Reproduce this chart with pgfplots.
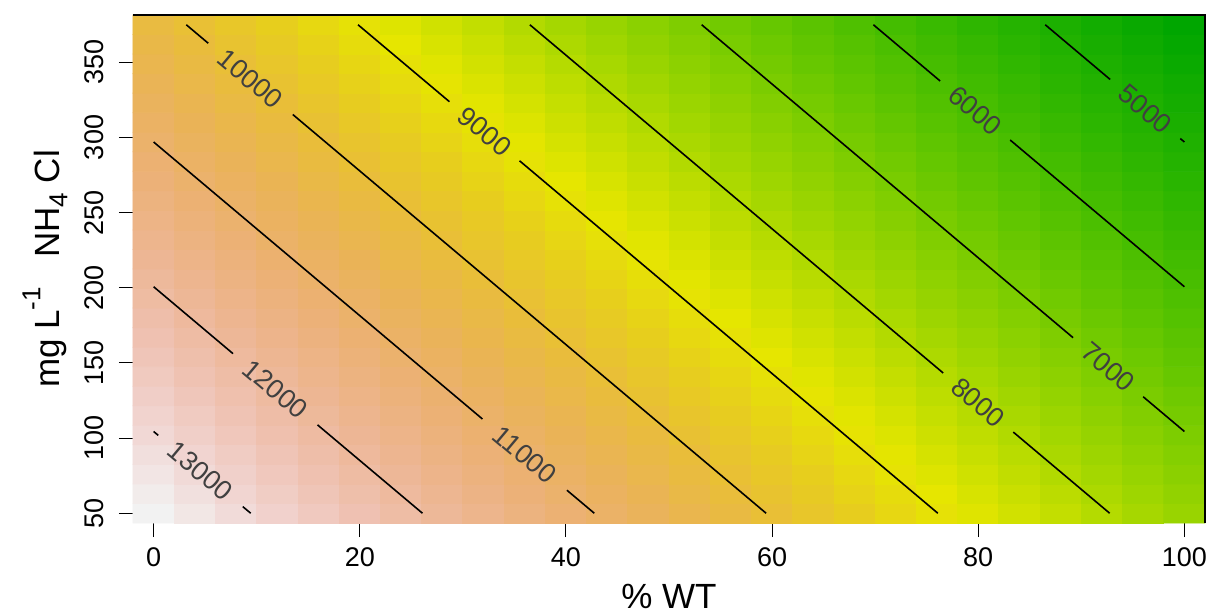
\documentclass[border=0pt]{standalone}
\usepackage{fontspec}
\setmainfont{Liberation Sans}
\usepackage{pgfplots}
\pgfplotsset{compat=1.18}

% reversed terrain palette as R draws it: green (low) -> yellow -> tan -> pink -> grey-white (high)
\pgfplotsset{colormap={terrain}{rgb255(0cm)=(0,166,0) rgb255(1cm)=(45,182,0) rgb255(2cm)=(99,198,0)
  rgb255(3cm)=(160,214,0) rgb255(4cm)=(230,230,0) rgb255(4.5cm)=(231,206,29) rgb255(5cm)=(233,189,58)
  rgb255(5.5cm)=(234,179,88) rgb255(6cm)=(236,177,118) rgb255(6.5cm)=(237,182,148)
  rgb255(7cm)=(239,194,179) rgb255(7.5cm)=(241,214,211) rgb255(8cm)=(242,242,242)}}

\newcommand{\sups}[1]{\raisebox{0.55em}{\fontsize{13}{13}\selectfont #1}}
\newcommand{\subs}[1]{\raisebox{-0.22em}{\fontsize{13}{13}\selectfont #1}}

\begin{document}
\begin{tikzpicture}
\begin{axis}[
  scale only axis,
  width=536pt, height=254pt,
  xmin=-2, xmax=102, ymin=43.5, ymax=381.5,
  axis line style={draw=none},
  tick align=outside,
  xtick pos=bottom, ytick pos=left,
  major tick length=7pt,
  tick style={black, line width=0.5pt},
  xtick={0,20,...,100},
  ytick={50,100,...,350},
  minor tick num=0,
  /pgf/number format/assume math mode=true,
  ticklabel style={font=\fontsize{13.5}{16}\selectfont},
  xticklabel style={anchor=center, yshift=-10pt},
  yticklabel style={anchor=center, xshift=-12.5pt, rotate=90},
  xlabel={\% WT},
  ylabel={mg L\sups{-1}\ \ \ NH\subs{4} Cl},
  label style={font=\fontsize{17.5}{20}\selectfont},
  xlabel style={at={(axis description cs:0.5,-0.1437)}, anchor=center},
  ylabel style={at={(axis description cs:-0.0821,0.5)}, anchor=center},
  colormap name=terrain,
  point meta min=4190, point meta max=13565,
  clip=false,
]
\addplot[matrix plot*, mesh/cols=26, point meta=explicit]
  table[x index=0, y index=1, meta index=2, row sep=\\] {
x y z\\
0 50 13565\\ 4 50 13325\\ 8 50 13085\\ 12 50 12845\\ 16 50 12605\\ 20 50 12365\\ 24 50 12125\\ 28 50 11885\\ 32 50 11645\\ 36 50 11405\\ 40 50 11165\\ 44 50 10925\\ 48 50 10685\\ 52 50 10445\\ 56 50 10205\\ 60 50 9965\\ 64 50 9725\\ 68 50 9485\\ 72 50 9245\\ 76 50 9005\\ 80 50 8765\\ 84 50 8525\\ 88 50 8285\\ 92 50 8045\\ 96 50 7805\\ 100 50 7565\\
0 63 13430\\ 4 63 13190\\ 8 63 12950\\ 12 63 12710\\ 16 63 12470\\ 20 63 12230\\ 24 63 11990\\ 28 63 11750\\ 32 63 11510\\ 36 63 11270\\ 40 63 11030\\ 44 63 10790\\ 48 63 10550\\ 52 63 10310\\ 56 63 10070\\ 60 63 9830\\ 64 63 9590\\ 68 63 9350\\ 72 63 9110\\ 76 63 8870\\ 80 63 8630\\ 84 63 8390\\ 88 63 8150\\ 92 63 7910\\ 96 63 7670\\ 100 63 7430\\
0 76 13295\\ 4 76 13055\\ 8 76 12815\\ 12 76 12575\\ 16 76 12335\\ 20 76 12095\\ 24 76 11855\\ 28 76 11615\\ 32 76 11375\\ 36 76 11135\\ 40 76 10895\\ 44 76 10655\\ 48 76 10415\\ 52 76 10175\\ 56 76 9935\\ 60 76 9695\\ 64 76 9455\\ 68 76 9215\\ 72 76 8975\\ 76 76 8735\\ 80 76 8495\\ 84 76 8255\\ 88 76 8015\\ 92 76 7775\\ 96 76 7535\\ 100 76 7295\\
0 89 13160\\ 4 89 12920\\ 8 89 12680\\ 12 89 12440\\ 16 89 12200\\ 20 89 11960\\ 24 89 11720\\ 28 89 11480\\ 32 89 11240\\ 36 89 11000\\ 40 89 10760\\ 44 89 10520\\ 48 89 10280\\ 52 89 10040\\ 56 89 9800\\ 60 89 9560\\ 64 89 9320\\ 68 89 9080\\ 72 89 8840\\ 76 89 8600\\ 80 89 8360\\ 84 89 8120\\ 88 89 7880\\ 92 89 7640\\ 96 89 7400\\ 100 89 7160\\
0 102 13025\\ 4 102 12785\\ 8 102 12545\\ 12 102 12305\\ 16 102 12065\\ 20 102 11825\\ 24 102 11585\\ 28 102 11345\\ 32 102 11105\\ 36 102 10865\\ 40 102 10625\\ 44 102 10385\\ 48 102 10145\\ 52 102 9905\\ 56 102 9665\\ 60 102 9425\\ 64 102 9185\\ 68 102 8945\\ 72 102 8705\\ 76 102 8465\\ 80 102 8225\\ 84 102 7985\\ 88 102 7745\\ 92 102 7505\\ 96 102 7265\\ 100 102 7025\\
0 115 12890\\ 4 115 12650\\ 8 115 12410\\ 12 115 12170\\ 16 115 11930\\ 20 115 11690\\ 24 115 11450\\ 28 115 11210\\ 32 115 10970\\ 36 115 10730\\ 40 115 10490\\ 44 115 10250\\ 48 115 10010\\ 52 115 9770\\ 56 115 9530\\ 60 115 9290\\ 64 115 9050\\ 68 115 8810\\ 72 115 8570\\ 76 115 8330\\ 80 115 8090\\ 84 115 7850\\ 88 115 7610\\ 92 115 7370\\ 96 115 7130\\ 100 115 6890\\
0 128 12755\\ 4 128 12515\\ 8 128 12275\\ 12 128 12035\\ 16 128 11795\\ 20 128 11555\\ 24 128 11315\\ 28 128 11075\\ 32 128 10835\\ 36 128 10595\\ 40 128 10355\\ 44 128 10115\\ 48 128 9875\\ 52 128 9635\\ 56 128 9395\\ 60 128 9155\\ 64 128 8915\\ 68 128 8675\\ 72 128 8435\\ 76 128 8195\\ 80 128 7955\\ 84 128 7715\\ 88 128 7475\\ 92 128 7235\\ 96 128 6995\\ 100 128 6755\\
0 141 12620\\ 4 141 12380\\ 8 141 12140\\ 12 141 11900\\ 16 141 11660\\ 20 141 11420\\ 24 141 11180\\ 28 141 10940\\ 32 141 10700\\ 36 141 10460\\ 40 141 10220\\ 44 141 9980\\ 48 141 9740\\ 52 141 9500\\ 56 141 9260\\ 60 141 9020\\ 64 141 8780\\ 68 141 8540\\ 72 141 8300\\ 76 141 8060\\ 80 141 7820\\ 84 141 7580\\ 88 141 7340\\ 92 141 7100\\ 96 141 6860\\ 100 141 6620\\
0 154 12485\\ 4 154 12245\\ 8 154 12005\\ 12 154 11765\\ 16 154 11525\\ 20 154 11285\\ 24 154 11045\\ 28 154 10805\\ 32 154 10565\\ 36 154 10325\\ 40 154 10085\\ 44 154 9845\\ 48 154 9605\\ 52 154 9365\\ 56 154 9125\\ 60 154 8885\\ 64 154 8645\\ 68 154 8405\\ 72 154 8165\\ 76 154 7925\\ 80 154 7685\\ 84 154 7445\\ 88 154 7205\\ 92 154 6965\\ 96 154 6725\\ 100 154 6485\\
0 167 12350\\ 4 167 12110\\ 8 167 11870\\ 12 167 11630\\ 16 167 11390\\ 20 167 11150\\ 24 167 10910\\ 28 167 10670\\ 32 167 10430\\ 36 167 10190\\ 40 167 9950\\ 44 167 9710\\ 48 167 9470\\ 52 167 9230\\ 56 167 8990\\ 60 167 8750\\ 64 167 8510\\ 68 167 8270\\ 72 167 8030\\ 76 167 7790\\ 80 167 7550\\ 84 167 7310\\ 88 167 7070\\ 92 167 6830\\ 96 167 6590\\ 100 167 6350\\
0 180 12215\\ 4 180 11975\\ 8 180 11735\\ 12 180 11495\\ 16 180 11255\\ 20 180 11015\\ 24 180 10775\\ 28 180 10535\\ 32 180 10295\\ 36 180 10055\\ 40 180 9815\\ 44 180 9575\\ 48 180 9335\\ 52 180 9095\\ 56 180 8855\\ 60 180 8615\\ 64 180 8375\\ 68 180 8135\\ 72 180 7895\\ 76 180 7655\\ 80 180 7415\\ 84 180 7175\\ 88 180 6935\\ 92 180 6695\\ 96 180 6455\\ 100 180 6215\\
0 193 12080\\ 4 193 11840\\ 8 193 11600\\ 12 193 11360\\ 16 193 11120\\ 20 193 10880\\ 24 193 10640\\ 28 193 10400\\ 32 193 10160\\ 36 193 9920\\ 40 193 9680\\ 44 193 9440\\ 48 193 9200\\ 52 193 8960\\ 56 193 8720\\ 60 193 8480\\ 64 193 8240\\ 68 193 8000\\ 72 193 7760\\ 76 193 7520\\ 80 193 7280\\ 84 193 7040\\ 88 193 6800\\ 92 193 6560\\ 96 193 6320\\ 100 193 6080\\
0 206 11945\\ 4 206 11705\\ 8 206 11465\\ 12 206 11225\\ 16 206 10985\\ 20 206 10745\\ 24 206 10505\\ 28 206 10265\\ 32 206 10025\\ 36 206 9785\\ 40 206 9545\\ 44 206 9305\\ 48 206 9065\\ 52 206 8825\\ 56 206 8585\\ 60 206 8345\\ 64 206 8105\\ 68 206 7865\\ 72 206 7625\\ 76 206 7385\\ 80 206 7145\\ 84 206 6905\\ 88 206 6665\\ 92 206 6425\\ 96 206 6185\\ 100 206 5945\\
0 219 11810\\ 4 219 11570\\ 8 219 11330\\ 12 219 11090\\ 16 219 10850\\ 20 219 10610\\ 24 219 10370\\ 28 219 10130\\ 32 219 9890\\ 36 219 9650\\ 40 219 9410\\ 44 219 9170\\ 48 219 8930\\ 52 219 8690\\ 56 219 8450\\ 60 219 8210\\ 64 219 7970\\ 68 219 7730\\ 72 219 7490\\ 76 219 7250\\ 80 219 7010\\ 84 219 6770\\ 88 219 6530\\ 92 219 6290\\ 96 219 6050\\ 100 219 5810\\
0 232 11675\\ 4 232 11435\\ 8 232 11195\\ 12 232 10955\\ 16 232 10715\\ 20 232 10475\\ 24 232 10235\\ 28 232 9995\\ 32 232 9755\\ 36 232 9515\\ 40 232 9275\\ 44 232 9035\\ 48 232 8795\\ 52 232 8555\\ 56 232 8315\\ 60 232 8075\\ 64 232 7835\\ 68 232 7595\\ 72 232 7355\\ 76 232 7115\\ 80 232 6875\\ 84 232 6635\\ 88 232 6395\\ 92 232 6155\\ 96 232 5915\\ 100 232 5675\\
0 245 11540\\ 4 245 11300\\ 8 245 11060\\ 12 245 10820\\ 16 245 10580\\ 20 245 10340\\ 24 245 10100\\ 28 245 9860\\ 32 245 9620\\ 36 245 9380\\ 40 245 9140\\ 44 245 8900\\ 48 245 8660\\ 52 245 8420\\ 56 245 8180\\ 60 245 7940\\ 64 245 7700\\ 68 245 7460\\ 72 245 7220\\ 76 245 6980\\ 80 245 6740\\ 84 245 6500\\ 88 245 6260\\ 92 245 6020\\ 96 245 5780\\ 100 245 5540\\
0 258 11405\\ 4 258 11165\\ 8 258 10925\\ 12 258 10685\\ 16 258 10445\\ 20 258 10205\\ 24 258 9965\\ 28 258 9725\\ 32 258 9485\\ 36 258 9245\\ 40 258 9005\\ 44 258 8765\\ 48 258 8525\\ 52 258 8285\\ 56 258 8045\\ 60 258 7805\\ 64 258 7565\\ 68 258 7325\\ 72 258 7085\\ 76 258 6845\\ 80 258 6605\\ 84 258 6365\\ 88 258 6125\\ 92 258 5885\\ 96 258 5645\\ 100 258 5405\\
0 271 11270\\ 4 271 11030\\ 8 271 10790\\ 12 271 10550\\ 16 271 10310\\ 20 271 10070\\ 24 271 9830\\ 28 271 9590\\ 32 271 9350\\ 36 271 9110\\ 40 271 8870\\ 44 271 8630\\ 48 271 8390\\ 52 271 8150\\ 56 271 7910\\ 60 271 7670\\ 64 271 7430\\ 68 271 7190\\ 72 271 6950\\ 76 271 6710\\ 80 271 6470\\ 84 271 6230\\ 88 271 5990\\ 92 271 5750\\ 96 271 5510\\ 100 271 5270\\
0 284 11135\\ 4 284 10895\\ 8 284 10655\\ 12 284 10415\\ 16 284 10175\\ 20 284 9935\\ 24 284 9695\\ 28 284 9455\\ 32 284 9215\\ 36 284 8975\\ 40 284 8735\\ 44 284 8495\\ 48 284 8255\\ 52 284 8015\\ 56 284 7775\\ 60 284 7535\\ 64 284 7295\\ 68 284 7055\\ 72 284 6815\\ 76 284 6575\\ 80 284 6335\\ 84 284 6095\\ 88 284 5855\\ 92 284 5615\\ 96 284 5375\\ 100 284 5135\\
0 297 11000\\ 4 297 10760\\ 8 297 10520\\ 12 297 10280\\ 16 297 10040\\ 20 297 9800\\ 24 297 9560\\ 28 297 9320\\ 32 297 9080\\ 36 297 8840\\ 40 297 8600\\ 44 297 8360\\ 48 297 8120\\ 52 297 7880\\ 56 297 7640\\ 60 297 7400\\ 64 297 7160\\ 68 297 6920\\ 72 297 6680\\ 76 297 6440\\ 80 297 6200\\ 84 297 5960\\ 88 297 5720\\ 92 297 5480\\ 96 297 5240\\ 100 297 5000\\
0 310 10865\\ 4 310 10625\\ 8 310 10385\\ 12 310 10145\\ 16 310 9905\\ 20 310 9665\\ 24 310 9425\\ 28 310 9185\\ 32 310 8945\\ 36 310 8705\\ 40 310 8465\\ 44 310 8225\\ 48 310 7985\\ 52 310 7745\\ 56 310 7505\\ 60 310 7265\\ 64 310 7025\\ 68 310 6785\\ 72 310 6545\\ 76 310 6305\\ 80 310 6065\\ 84 310 5825\\ 88 310 5585\\ 92 310 5345\\ 96 310 5105\\ 100 310 4865\\
0 323 10730\\ 4 323 10490\\ 8 323 10250\\ 12 323 10010\\ 16 323 9770\\ 20 323 9530\\ 24 323 9290\\ 28 323 9050\\ 32 323 8810\\ 36 323 8570\\ 40 323 8330\\ 44 323 8090\\ 48 323 7850\\ 52 323 7610\\ 56 323 7370\\ 60 323 7130\\ 64 323 6890\\ 68 323 6650\\ 72 323 6410\\ 76 323 6170\\ 80 323 5930\\ 84 323 5690\\ 88 323 5450\\ 92 323 5210\\ 96 323 4970\\ 100 323 4730\\
0 336 10595\\ 4 336 10355\\ 8 336 10115\\ 12 336 9875\\ 16 336 9635\\ 20 336 9395\\ 24 336 9155\\ 28 336 8915\\ 32 336 8675\\ 36 336 8435\\ 40 336 8195\\ 44 336 7955\\ 48 336 7715\\ 52 336 7475\\ 56 336 7235\\ 60 336 6995\\ 64 336 6755\\ 68 336 6515\\ 72 336 6275\\ 76 336 6035\\ 80 336 5795\\ 84 336 5555\\ 88 336 5315\\ 92 336 5075\\ 96 336 4835\\ 100 336 4595\\
0 349 10460\\ 4 349 10220\\ 8 349 9980\\ 12 349 9740\\ 16 349 9500\\ 20 349 9260\\ 24 349 9020\\ 28 349 8780\\ 32 349 8540\\ 36 349 8300\\ 40 349 8060\\ 44 349 7820\\ 48 349 7580\\ 52 349 7340\\ 56 349 7100\\ 60 349 6860\\ 64 349 6620\\ 68 349 6380\\ 72 349 6140\\ 76 349 5900\\ 80 349 5660\\ 84 349 5420\\ 88 349 5180\\ 92 349 4940\\ 96 349 4700\\ 100 349 4460\\
0 362 10325\\ 4 362 10085\\ 8 362 9845\\ 12 362 9605\\ 16 362 9365\\ 20 362 9125\\ 24 362 8885\\ 28 362 8645\\ 32 362 8405\\ 36 362 8165\\ 40 362 7925\\ 44 362 7685\\ 48 362 7445\\ 52 362 7205\\ 56 362 6965\\ 60 362 6725\\ 64 362 6485\\ 68 362 6245\\ 72 362 6005\\ 76 362 5765\\ 80 362 5525\\ 84 362 5285\\ 88 362 5045\\ 92 362 4805\\ 96 362 4565\\ 100 362 4325\\
0 375 10190\\ 4 375 9950\\ 8 375 9710\\ 12 375 9470\\ 16 375 9230\\ 20 375 8990\\ 24 375 8750\\ 28 375 8510\\ 32 375 8270\\ 36 375 8030\\ 40 375 7790\\ 44 375 7550\\ 48 375 7310\\ 52 375 7070\\ 56 375 6830\\ 60 375 6590\\ 64 375 6350\\ 68 375 6110\\ 72 375 5870\\ 76 375 5630\\ 80 375 5390\\ 84 375 5150\\ 88 375 4910\\ 92 375 4670\\ 96 375 4430\\ 100 375 4190\\
};

% contour lines, broken where the labels sit
\addplot[black, line width=0.8pt, unbounded coords=jump] coordinates {(0,104.4) (0.45,101.8) (nan,nan) (8.65,54.4) (9.42,50)};
\addplot[black, line width=0.8pt, unbounded coords=jump] coordinates {(0,200.7) (7.7,156.2) (nan,nan) (15.9,108.8) (26.08,50)};
\addplot[black, line width=0.8pt, unbounded coords=jump] coordinates {(0,297.0) (31.9,112.7) (nan,nan) (40.1,65.3) (42.75,50)};
\addplot[black, line width=0.8pt, unbounded coords=jump] coordinates {(3.17,375) (5.3,362.7) (nan,nan) (13.5,315.3) (59.42,50)};
\addplot[black, line width=0.8pt, unbounded coords=jump] coordinates {(19.83,375) (28.7,323.8) (nan,nan) (35.5,284.5) (76.08,50)};
\addplot[black, line width=0.8pt, unbounded coords=jump] coordinates {(36.5,375) (76.6,143.3) (nan,nan) (83.4,104.0) (92.75,50)};
\addplot[black, line width=0.8pt, unbounded coords=jump] coordinates {(53.17,375) (89.2,166.8) (nan,nan) (96.0,127.5) (100,104.4)};
\addplot[black, line width=0.8pt, unbounded coords=jump] coordinates {(69.83,375) (76.3,337.6) (nan,nan) (83.1,298.3) (100,200.7)};
\addplot[black, line width=0.8pt, unbounded coords=jump] coordinates {(86.5,375) (92.8,338.6) (nan,nan) (99.6,299.3) (100,297.0)};

\begin{scope}[every node/.style={rotate=-40, inner sep=0pt, text=black!75, font=\fontsize{13.5}{16}\selectfont}]
\node at (4.55,78.1) {13000};
\node at (11.8,132.5) {12000};
\node at (36.0,89.0) {11000};
\node at (9.4,339.0) {10000};
\node at (32.1,304.1) {9000};
\node at (80.0,123.7) {8000};
\node at (92.6,147.2) {7000};
\node at (79.7,318.0) {6000};
\node at (96.2,319.0) {5000};
\end{scope}

% R leaves only the top and right frame edges visible
\draw[black, line width=0.6pt] (rel axis cs:0,1) -- (rel axis cs:1,1) -- (rel axis cs:1,0);
\end{axis}
\pgfresetboundingbox
\path[use as bounding box] ([shift={(-66.5pt,-43.5pt)}]current axis.south west) rectangle ([shift={(4pt,7.5pt)}]current axis.north east);
\end{tikzpicture}
\end{document}
